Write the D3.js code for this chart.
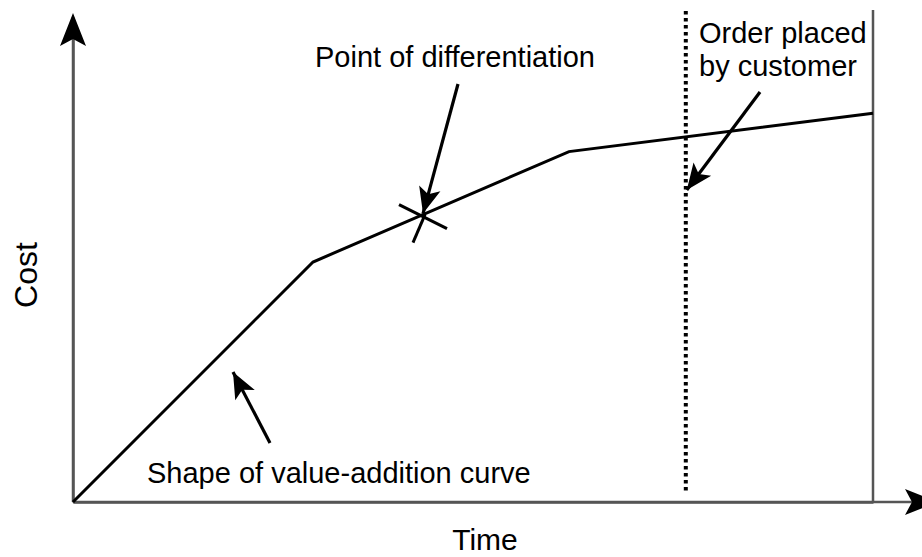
<!DOCTYPE html>
<html>
<head>
<style>
    body { margin: 0; background: #fff; }
    text { font-family: "Liberation Sans", Arial, sans-serif; fill: #000; }
    .axis path.domain { stroke: #555; stroke-width: 2.5; }
</style>
<script src="https://d3js.org/d3.v7.min.js"></script>
</head>
<body>
<svg width="922" height="557"></svg>

<script>
    // value-addition curve (time, cost)
    var times = [0, 30, 62, 100];
    var costs = [0, 50, 73, 81];

    var orderTime = 76.6;      // order placed by customer
    var endTime = 100;         // end of process
    var diffTime = 43.75;      // point of differentiation

    var labels = ["Point of differentiation", "Order placed", "by customer", "Shape of value-addition curve"];

    var svg = d3.select("svg");

    var xScale = d3.scaleLinear().domain([0, 100]).range([73, 873]);
    var yScale = d3.scaleLinear().domain([0, 100]).range([502, 22]);

    var defs = svg.append("defs");
    defs.append("marker")
        .attr("id", "head")
        .attr("viewBox", "-27 -12 29 24")
        .attr("refX", 0).attr("refY", 0)
        .attr("markerUnits", "userSpaceOnUse")
        .attr("markerWidth", 29).attr("markerHeight", 24)
        .attr("orient", "auto")
        .append("path")
        .attr("d", "M0,0 L-26,-11 L-20,0 L-26,11 Z")
        .attr("fill", "#000");

    defs.append("marker")
        .attr("id", "axhead")
        .attr("viewBox", "-34 -14 36 28")
        .attr("refX", -4).attr("refY", 0)
        .attr("markerUnits", "userSpaceOnUse")
        .attr("markerWidth", 36).attr("markerHeight", 28)
        .attr("orient", "auto")
        .append("path")
        .attr("d", "M0,0 L-33,-13 L-26,0 L-33,13 Z")
        .attr("fill", "#000");

    // axes without ticks
    svg.append("g").attr("class", "axis")
        .attr("transform", "translate(0," + yScale(0) + ")")
        .call(d3.axisBottom(xScale).ticks(0).tickSizeOuter(0));
    svg.append("g").attr("class", "axis")
        .attr("transform", "translate(" + xScale(0) + ",0)")
        .call(d3.axisLeft(yScale).ticks(0).tickSizeOuter(0));

    // arrow extensions of the axes
    svg.append("line")
        .attr("x1", xScale(0)).attr("x2", xScale(0))
        .attr("y1", yScale(0)).attr("y2", 17)
        .attr("stroke", "#555").attr("stroke-width", 2.5)
        .attr("marker-end", "url(#axhead)");
    svg.append("line")
        .attr("x1", xScale(0)).attr("x2", 934)
        .attr("y1", yScale(0)).attr("y2", yScale(0))
        .attr("stroke", "#555").attr("stroke-width", 2.5)
        .attr("marker-end", "url(#axhead)");

    // end of process line
    svg.append("line")
        .attr("x1", xScale(endTime)).attr("x2", xScale(endTime))
        .attr("y1", 10).attr("y2", yScale(0))
        .attr("stroke", "#555").attr("stroke-width", 2.5);

    // order placed dotted line
    svg.append("line")
        .attr("x1", xScale(orderTime)).attr("x2", xScale(orderTime))
        .attr("y1", 11).attr("y2", 493)
        .attr("stroke", "#000").attr("stroke-width", 4)
        .attr("stroke-dasharray", "3.5 3.5");

    // curve
    var pts = times.map(function (t, i) { return [t, costs[i]]; });
    svg.append("path")
        .datum(pts)
        .attr("fill", "none")
        .attr("stroke", "#000")
        .attr("stroke-width", 3)
        .attr("d", d3.line().x(function (d) { return xScale(d[0]); }).y(function (d) { return yScale(d[1]); }));

    // point of differentiation cross
    var dc = d3.scaleLinear().domain(times).range(costs)(diffTime);
    var px = xScale(diffTime), py = yScale(dc);
    svg.append("line")
        .attr("x1", px - 24).attr("y1", py - 10)
        .attr("x2", px + 24).attr("y2", py + 14)
        .attr("stroke", "#000").attr("stroke-width", 3);
    svg.append("line")
        .attr("x1", px - 10).attr("y1", py + 28)
        .attr("x2", px + 2).attr("y2", py)
        .attr("stroke", "#000").attr("stroke-width", 3);

    // annotation arrows
    function arrow(x1, y1, x2, y2) {
        svg.append("line")
            .attr("x1", x1).attr("y1", y1)
            .attr("x2", x2).attr("y2", y2)
            .attr("stroke", "#000").attr("stroke-width", 3.2)
            .attr("marker-end", "url(#head)");
    }
    arrow(458, 84, px, py - 1);
    arrow(760, 92, xScale(orderTime) + 1, 190);
    arrow(270, 443, 233, 372);

    // labels
    svg.append("text").attr("x", 315).attr("y", 67)
        .style("font-size", "29px").text(labels[0]);
    svg.append("text").attr("x", 699).attr("y", 43)
        .style("font-size", "29px").text(labels[1]);
    svg.append("text").attr("x", 699).attr("y", 76)
        .style("font-size", "29px").text(labels[2]);
    svg.append("text").attr("x", 147).attr("y", 483)
        .style("font-size", "29px").text(labels[3]);

    svg.append("text").attr("x", 485).attr("y", 550)
        .attr("text-anchor", "middle")
        .style("font-size", "30px").text("Time");
    svg.append("text")
        .attr("transform", "translate(37,275) rotate(-90)")
        .attr("text-anchor", "middle")
        .style("font-size", "32px").text("Cost");
</script>
</body>
</html>
